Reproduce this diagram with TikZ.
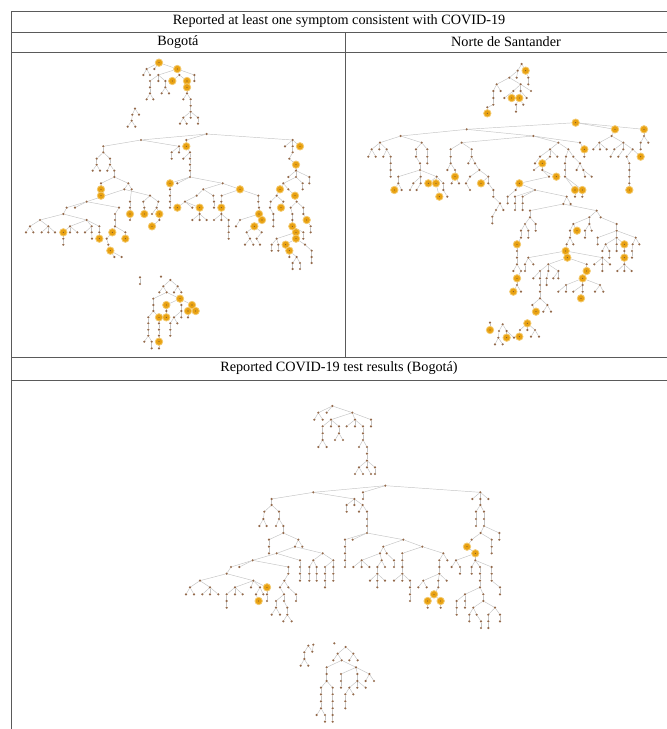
\documentclass[tikz,border=0pt]{standalone}
\usepackage{fontspec}
\setmainfont{Liberation Serif}
\pgfdeclarelayer{bg}
\pgfsetlayers{bg,main}
\definecolor{hlc}{HTML}{E9A212}
\definecolor{hlring}{HTML}{F4CA6E}
\definecolor{dotc}{HTML}{93694A}
\definecolor{rulec}{HTML}{5A5A5A}
\tikzset{
  pt/.style={circle,inner sep=0pt,minimum size=2.4pt,fill=dotc,draw=none},
  hl/.style={circle,inner sep=0pt,minimum size=7.4pt,fill=hlc,draw=hlring,line width=0.8pt,
     path picture={\fill[dotc!70!black] (path picture bounding box.center) circle (0.55pt);}},
  edge/.style={draw=black!23,line width=0.45pt},
  rule/.style={draw=rulec,line width=1pt},
  head/.style={inner sep=0pt,font=\fontsize{14.2}{16}\selectfont}
}
\newcommand\drawtree[1]{%
  \foreach \Na/\Xa/\Ya/\Pa/\Sa in {#1}{%
    \node[\Sa] (\Na) at (\Xa,\Ya) {};
  }%
  \begin{pgfonlayer}{bg}%
  \foreach \Na/\Xa/\Ya/\Pa/\Sa in {#1}{%
    \ifx\Na\Pa\else\draw[edge] (\Pa) -- (\Na);\fi
  }%
  \end{pgfonlayer}}
\begin{document}
\begin{tikzpicture}[x=1pt,y=-1pt]
\useasboundingbox (0,0) rectangle (667,729);
\begin{pgfonlayer}{bg}
\fill[white] (0,0) rectangle (667,729);
\end{pgfonlayer}
% table rules
\draw[rule] (11,11) -- (667,11);
\draw[rule] (11,32) -- (667,32);
\draw[rule] (11,52) -- (667,52);
\draw[rule] (345,32) -- (345,357);
\draw[rule] (11,357) -- (667,357);
\draw[rule] (11,380) -- (667,380);
\draw[rule] (11,11) -- (11,729);
% headers
\node[head] (h1) at (339,21.5) {Reported at least one symptom consistent with COVID-19};
\node[head] (h2) at (178,42) {Bogotá};
\node[head] (h3) at (506,42) {Norte de Santander};
\node[head] (h4) at (339,368.5) {Reported COVID-19 test results (Bogotá)};

% ---------- Bogota top small trees
\begin{scope}[shift={(90,50)},x=0.33333pt,y=-0.33333pt]
\drawtree{a0/207/38/a0/hl,a1/170/57/a0/pt,a2/193/57/a0/pt,a3/262/57/a0/hl,
a4/160/75/a1/pt,a5/180/75/a1/pt,a6/205/75/a3/pt,a7/268/75/a3/pt,a8/313/75/a3/pt,
a9/180/93/a6/pt,a10/205/93/a6/pt,a11/226/93/a6/pt,a12/247/93/a7/hl,a13/291/93/a7/hl,a14/313/93/a8/pt,
a15/180/112/a9/pt,a16/226/112/a11/pt,a17/291/112/a13/hl,
a18/180/130/a15/pt,a19/215/130/a16/pt,a20/237/130/a16/pt,a21/291/130/a17/pt,
a22/170/148/a18/pt,a23/190/148/a18/pt,a24/280/148/a21/pt,a25/302/148/a21/pt,
a26/302/167/a25/pt,a27/302/185/a26/pt,a28/280/203/a27/pt,a29/302/203/a27/pt,a30/324/203/a27/pt,
a31/270/221/a28/pt,a32/290/221/a28/pt,a33/324/221/a30/pt,
b0/135/176/b0/pt,b1/147/194/b0/pt,b2/127/194/b0/pt,b3/125/212/b2/pt,b4/113/230/b3/pt,b5/136/230/b3/pt}
\end{scope}

% ---------- Bogota big tree
\begin{scope}[shift={(20,130)},x=0.33333pt,y=-0.33333pt]
\drawtree{c0/560/12/c0/pt,c1/363/30/c0/pt,c2/499/30/c0/pt,c3/818/30/c0/pt,
c4/250/49/c1/pt,c5/477/49/c1/pt,c6/499/49/c2/hl,c7/795/49/c3/pt,c8/818/49/c3/pt,c9/840/49/c3/hl,
c10/250/67/c4/pt,c11/455/67/c5/pt,c12/477/67/c5/pt,c13/510/67/c6/pt,c14/818/67/c8/pt,
c15/230/86/c10/pt,c16/270/86/c10/pt,c17/455/86/c11/pt,c18/490/86/c13/pt,c19/510/86/c13/pt,c20/808/86/c14/pt,
c21/230/104/c15/pt,c22/270/104/c16/pt,c23/510/104/c19/pt,c24/828/104/c20/hl,
c26/218/122/c21/pt,c27/240/122/c21/pt,c28/262/122/c22/pt,c29/283/122/c22/pt,c30/510/122/c23/pt,c31/828/122/c24/pt,
c32/283/141/c29/pt,c33/510/141/c30/pt,c34/805/141/c31/pt,c35/828/141/c31/pt,c36/868/141/c31/pt,
c37/243/160/c32/pt,c38/325/160/c32/pt,c39/450/160/c33/hl,c40/472/160/c33/pt,c41/608/160/c33/pt,c42/790/160/c35/pt,c43/848/160/c35/pt,c44/868/160/c36/pt,
c45/243/178/c37/hl,c46/313/178/c38/pt,c47/335/178/c38/pt,c48/450/178/c39/pt,c49/550/178/c41/pt,c50/660/178/c41/hl,c51/780/178/c42/hl,c52/805/178/c42/pt,c53/848/178/c43/pt,
c54/243/197/c45/hl,c55/390/197/c46/pt,c56/450/197/c48/pt,c57/530/197/c49/pt,c58/580/197/c49/pt,c59/605/197/c50/pt,c60/715/197/c50/pt,c61/770/197/c51/pt,c62/825/197/c52/hl,
c63/200/215/c46/pt,c64/330/215/c47/pt,c65/370/215/c55/pt,c66/415/215/c55/pt,c67/450/215/c56/pt,c68/495/215/c57/pt,c69/582/215/c58/pt,c70/604/215/c59/pt,c71/715/215/c60/pt,c72/752/215/c61/pt,c73/790/215/c61/pt,c74/830/215/c62/pt,
c75/140/233/c63/pt,c76/165/233/c63/pt,c77/297/233/c63/pt,c78/330/233/c64/pt,c79/373/233/c65/pt,c80/410/233/c66/pt,c81/450/233/c67/pt,c82/472/233/c68/hl,c83/517/233/c68/pt,c84/539/233/c68/hl,c85/582/233/c69/pt,c86/604/233/c70/hl,c87/717/233/c71/pt,c88/750/233/c72/pt,c89/783/233/c73/hl,c90/812/233/c74/pt,c91/850/233/c74/pt,
c92/130/252/c75/pt,c93/285/252/c77/pt,c94/330/252/c78/hl,c95/373/252/c79/hl,c96/418/252/c80/hl,c97/396/252/c80/pt,c98/539/252/c84/pt,c99/604/252/c86/pt,c100/717/252/c87/hl,c101/760/252/c88/pt,c102/817/252/c90/pt,c103/850/252/c91/pt,
c104/60/270/c92/pt,c105/200/270/c92/pt,c106/285/270/c93/pt,c107/330/270/c94/pt,c108/418/270/c96/pt,c109/517/270/c98/pt,c110/539/270/c98/pt,c111/560/270/c98/pt,c112/582/270/c99/pt,c113/604/270/c99/pt,c114/626/270/c99/pt,c115/660/270/c100/pt,c116/726/270/c100/hl,c117/760/270/c101/pt,c118/817/270/c102/pt,c119/860/270/c103/hl,
c120/30/289/c104/pt,c121/85/289/c104/pt,c122/150/289/c105/pt,c123/215/289/c105/pt,c124/238/289/c105/pt,c125/285/289/c106/pt,c126/396/289/c108/hl,c127/626/289/c114/pt,c128/648/289/c115/pt,c129/703/289/c116/hl,c130/760/289/c117/pt,c131/817/289/c118/hl,c132/872/289/c119/pt,
c133/18/307/c120/pt,c134/40/307/c120/pt,c135/65/307/c121/pt,c136/85/307/c121/pt,c137/105/307/c121/pt,c138/130/307/c122/hl,c139/150/307/c122/pt,c140/172/307/c122/pt,c141/195/307/c123/pt,c142/215/307/c123/pt,c143/238/307/c124/pt,c144/277/307/c125/hl,c145/316/307/c125/pt,c146/626/307/c127/pt,c147/680/307/c129/pt,c148/725/307/c129/pt,c149/828/307/c131/hl,c150/850/307/c131/pt,c151/872/307/c132/pt,
c152/130/326/c138/pt,c153/216/326/c142/pt,c154/238/326/c143/hl,c155/260/326/c144/pt,c156/316/326/c145/hl,c157/626/326/c146/pt,c158/690/326/c147/pt,c159/710/326/c148/pt,c160/770/326/c149/pt,c161/828/326/c149/hl,c162/850/326/c150/pt,
c163/130/344/c152/pt,c164/265/344/c155/pt,c165/675/344/c158/pt,c166/700/344/c158/pt,c167/720/344/c159/pt,c168/755/344/c160/pt,c169/775/344/c160/pt,c170/797/344/c161/hl,c171/855/344/c161/pt,
c172/271/362/c164/hl,c173/755/362/c168/pt,c174/775/362/c169/pt,c175/808/362/c170/hl,c176/875/362/c171/pt,
c177/283/381/c172/pt,c178/305/381/c172/pt,c179/830/381/c175/pt,c180/808/381/c175/pt,c181/875/381/c176/pt,
c182/818/399/c179/pt,c183/840/399/c179/pt,c184/875/399/c181/pt,c185/818/417/c182/pt,c186/840/417/c183/pt}
\end{scope}

% ---------- Bogota bottom trees
\begin{scope}[shift={(100,260)},x=0.33333pt,y=-0.33333pt]
\drawtree{d0/120/52/d0/pt,d1/120/72/d0/pt,d2/183/50/d2/pt,
e0/211/60/e0/pt,e1/190/79/e0/pt,e2/233/79/e0/pt,e3/178/97/e1/pt,e4/200/97/e1/pt,e5/222/97/e2/pt,e6/244/97/e2/pt,
e7/160/116/e4/pt,e8/240/116/e4/hl,e9/160/135/e7/pt,e10/199/135/e8/hl,e11/244/135/e8/pt,e12/276/135/e8/hl,
e13/160/153/e9/pt,e14/199/153/e10/pt,e15/244/153/e11/pt,e16/264/153/e12/hl,e17/287/153/e12/hl,
e18/145/172/e13/pt,e19/177/172/e13/hl,e20/199/172/e14/hl,e21/222/172/e15/pt,e22/244/172/e15/pt,e23/264/172/e16/pt,
e24/145/190/e18/pt,e25/177/190/e19/pt,e26/211/190/e21/pt,e27/232/190/e21/pt,
e28/145/209/e24/pt,e29/177/209/e25/pt,e30/211/209/e26/pt,e31/145/227/e28/pt,e32/177/227/e29/pt,e33/211/227/e30/pt,
e34/133/245/e31/pt,e35/155/245/e31/pt,e36/177/245/e32/hl,e37/155/265/e35/pt,e38/177/265/e36/pt}
\end{scope}

% ---------- Norte de Santander
\begin{scope}[shift={(350,50)},x=0.33333pt,y=-0.33333pt]
\drawtree{n0/515/42/n0/pt,n1/503/62/n0/pt,n2/527/62/n0/hl,n3/478/83/n1/pt,n4/500/83/n1/pt,n5/535/83/n2/pt,
n6/440/103/n3/pt,n7/512/103/n3/pt,n8/535/103/n5/pt,n9/430/123/n6/pt,n10/452/123/n6/pt,n11/490/123/n7/pt,n12/512/123/n7/pt,n13/543/123/n7/pt,
n14/430/144/n9/pt,n15/463/144/n11/pt,n16/485/144/n11/hl,n17/508/144/n12/hl,n18/530/144/n12/pt,
n19/430/164/n14/pt,n20/498/164/n17/pt,n21/520/164/n17/pt,n22/412/172/n19/pt,n23/412/190/n22/hl,n24/498/185/n20/pt}
\drawtree{p0/677/218/p0/hl,p1/350/238/p0/pt,p2/795/238/p0/hl,p3/882/238/p0/hl,
p4/152/258/p1/pt,p5/550/258/p1/pt,p6/785/258/p2/pt,p7/882/258/p3/pt,
p8/90/278/p4/pt,p9/215/278/p4/pt,p10/335/278/p5/pt,p11/625/278/p5/pt,p12/690/278/p5/pt,p13/748/278/p6/pt,p14/820/278/p6/pt,p15/872/278/p7/pt,p16/895/278/p7/pt,
p17/65/298/p8/pt,p18/88/298/p8/pt,p19/110/298/p8/pt,p20/198/298/p9/pt,p21/232/298/p9/pt,p22/302/298/p10/pt,p23/365/298/p10/pt,p24/600/298/p11/pt,p25/655/298/p11/pt,p26/703/298/p12/hl,p27/730/298/p13/pt,p28/750/298/p13/pt,p29/770/298/p13/pt,p30/793/298/p14/pt,p31/820/298/p14/pt,p32/848/298/p14/pt,p33/872/298/p15/pt,
p34/55/320/p17/pt,p35/77/320/p17/pt,p36/100/320/p19/pt,p37/122/320/p19/pt,p38/198/320/p20/pt,p39/232/320/p21/pt,p40/302/320/p22/pt,p41/365/320/p23/pt,p42/570/320/p24/pt,p43/600/320/p24/pt,p44/622/320/p24/pt,p45/648/320/p25/pt,p46/670/320/p25/pt,p47/703/320/p26/pt,p48/782/320/p30/pt,p49/805/320/p31/pt,p50/830/320/p32/pt,p51/872/320/p32/hl,
p52/122/340/p37/pt,p53/210/340/p38/pt,p54/232/340/p39/pt,p55/302/340/p40/pt,p56/355/340/p41/pt,p57/375/340/p41/pt,p58/577/340/p43/hl,p59/555/340/p42/pt,p60/645/340/p45/pt,p61/690/340/p46/pt,p62/838/340/p50/pt,
p63/122/360/p52/pt,p64/210/360/p53/pt,p65/292/360/p55/pt,p66/315/360/p55/pt,p67/388/360/p57/pt,p68/552/360/p58/pt,p69/577/360/p58/pt,p70/645/360/p60/pt,p71/680/360/p61/pt,p72/700/360/p61/pt,p73/838/360/p62/pt,
p74/122/380/p63/pt,p75/145/380/p64/pt,p76/212/380/p64/pt,p77/260/380/p64/pt,p78/315/380/p66/hl,p79/360/380/p67/pt,p80/415/380/p67/pt,p81/597/380/p69/pt,p82/619/380/p69/hl,p83/645/380/p70/pt,p84/705/380/p72/pt,p85/725/380/p72/pt,p86/838/380/p73/pt,
p87/145/400/p75/pt,p88/190/400/p76/pt,p89/212/400/p76/pt,p90/235/400/p77/hl,p91/258/400/p77/hl,p92/280/400/p77/pt,p93/305/400/p78/pt,p94/327/400/p78/pt,p95/348/400/p79/pt,p96/393/400/p80/hl,p97/415/400/p80/pt,p98/508/400/p81/hl,p99/838/400/p86/pt,
p100/133/420/p87/hl,p101/155/420/p87/pt,p102/180/420/p88/pt,p103/200/420/p89/pt,p104/268/440/p91/hl,p105/280/420/p92/pt,p106/360/420/p95/pt,p107/430/420/p97/pt,p108/497/420/p98/pt,p109/555/420/p98/pt,p110/675/420/p83/hl,p111/697/420/p83/hl,p112/838/420/p99/hl,
p113/292/440/p105/pt,p114/430/440/p107/pt,p115/675/440/p110/pt,p116/697/440/p111/pt}
\drawtree{q0/650/440/p109/pt,q1/495/440/p109/pt,q2/518/440/p109/pt,q3/495/460/q1/pt,q4/495/480/q3/pt,q5/518/460/q2/pt,q6/518/480/q5/pt,q7/473/440/p108/pt,q8/473/460/q7/pt,
q9/450/460/p114/pt,q10/438/480/q9/pt,q11/460/480/q9/pt,q12/427/500/q10/pt,q13/427/520/q12/pt,
q14/640/462/q0/pt,q15/662/462/q0/pt,q16/540/482/q14/pt,q17/740/482/q14/pt,q18/540/502/q16/pt,q19/525/522/q18/pt,q20/557/522/q18/pt,q21/557/542/q20/pt,
q22/513/542/q19/pt,q23/535/542/q19/pt,q24/513/563/q22/pt,q25/535/563/q23/pt,q26/501/583/q24/hl,q27/501/603/q26/pt,q28/501/623/q27/pt,q29/501/643/q28/pt,
q30/490/663/q29/pt,q31/513/663/q29/pt,q32/501/685/q31/hl,q33/501/705/q32/pt,q34/490/725/q33/hl,q35/513/725/q33/pt,
q36/718/502/q17/pt,q37/752/502/q17/pt,q38/670/522/q36/pt,q39/718/522/q36/pt,q40/800/522/q37/pt,
q41/660/542/q38/pt,q42/681/542/q38/hl,q43/705/542/q39/pt,q44/725/542/q39/pt,q45/660/563/q41/pt,q46/650/583/q45/pt,q47/670/583/q45/pt,q48/705/563/q43/pt,
q49/800/542/q40/pt,q50/743/563/q49/pt,q51/800/563/q49/pt,q52/857/563/q49/pt,q53/743/583/q50/pt,q54/767/583/q51/pt,q55/800/583/q51/pt,q56/823/583/q51/hl,q57/848/583/q52/pt,q58/868/583/q52/pt,
q59/757/603/q54/pt,q60/778/603/q54/pt,q61/800/603/q55/pt,q63/823/603/q56/pt,q62/823/623/q63/hl,q64/846/603/q57/pt,q65/846/623/q64/pt,q67/778/623/q60/pt,
q68/823/643/q62/pt,q69/802/663/q68/pt,q70/823/663/q68/pt,q71/845/663/q68/pt,
q72/647/603/q46/hl,q73/652/623/q72/hl,q74/535/623/q72/pt,q75/757/623/q72/pt,q76/525/643/q74/pt,q77/550/643/q74/pt,q78/525/663/q76/pt,
q79/595/643/q73/pt,q80/710/643/q73/pt,q81/710/663/q80/hl,q82/698/685/q81/hl,q83/648/705/q82/pt,q84/698/705/q82/pt,q85/750/705/q82/pt,
q86/625/725/q83/pt,q87/648/725/q83/pt,q88/670/725/q84/pt,q89/698/725/q84/pt,q90/693/745/q89/hl,q91/735/725/q85/pt,q92/760/725/q85/pt,
q93/570/663/q79/pt,q94/595/663/q79/pt,q95/625/663/q79/pt,q96/550/685/q93/pt,q97/570/685/q93/pt,q98/590/685/q94/pt,q99/610/685/q95/pt,q100/625/685/q95/pt,
q101/570/705/q97/pt,q102/590/705/q98/pt,q104/570/725/q101/pt,q103/570/745/q104/pt,q105/547/765/q103/pt,q106/592/765/q103/pt,q107/558/785/q105/hl,q108/580/785/q106/pt,q109/603/785/q106/pt,
q110/733/643/q75/pt,q111/757/643/q75/pt,q112/780/643/q75/pt,q113/757/663/q111/pt,
r0/532/820/r0/hl,r1/510/840/r0/pt,r2/532/840/r0/pt,r3/555/840/r0/pt,r4/508/860/r1/hl,r5/543/860/r3/pt,r6/567/860/r3/pt,
s0/458/823/s0/pt,s1/447/843/s0/pt,s2/470/843/s0/pt,s3/470/863/s2/hl,s4/445/863/s1/pt,s5/435/883/s4/pt,s6/458/883/s4/pt,s7/492/863/s2/pt,
t0/420/818/t0/pt,t1/420/840/t0/hl}
\end{scope}

% ---------- Test results (Bogota)
\begin{scope}[shift={(170,390)},x=0.33333pt,y=-0.33333pt]
\drawtree{u0/487/48/u0/pt,u1/445/68/u0/pt,u2/470/68/u0/pt,u3/547/68/u0/pt,u4/433/89/u1/pt,u5/458/89/u1/pt,u6/483/89/u3/pt,u7/555/89/u3/pt,u8/603/89/u3/pt,
u9/458/109/u6/pt,u10/483/109/u6/pt,u11/507/109/u6/pt,u12/530/109/u7/pt,u13/555/109/u7/pt,u14/579/109/u7/pt,u15/603/109/u8/pt,
u16/458/130/u9/pt,u17/507/130/u11/pt,u18/579/130/u14/pt,u19/458/150/u16/pt,u20/495/150/u17/pt,u21/519/150/u17/pt,u22/579/150/u18/pt,
u23/445/171/u19/pt,u24/470/171/u19/pt,u25/567/171/u22/pt,u26/591/171/u22/pt,u27/591/191/u26/pt,u28/591/212/u27/pt,
u29/567/232/u28/pt,u30/591/232/u28/pt,u31/615/232/u28/pt,u32/555/252/u29/pt,u33/579/252/u29/pt,u34/603/252/u30/pt,u35/615/252/u31/pt,
v0/646/287/v0/pt,v1/430/307/v0/pt,v2/579/307/v0/pt,v3/931/307/v0/pt,v4/305/327/v1/pt,v5/553/327/v1/pt,v6/579/327/v2/pt,v7/907/327/v3/pt,v8/931/327/v3/pt,v9/955/327/v3/pt}
\end{scope}
\begin{scope}[shift={(170,500)},x=0.33333pt,y=-0.33333pt]
\drawtree{w0/305/15/v4/pt,w1/283/35/w0/pt,w2/327/35/w0/pt,w3/280/57/w1/pt,w4/327/57/w2/pt,w5/268/78/w3/pt,w6/290/78/w3/pt,w7/318/78/w4/pt,w8/340/78/w4/pt,
w9/340/99/w8/pt,w10/297/119/w9/pt,w11/385/119/w9/pt,w12/297/140/w10/pt,w13/297/160/w12/pt,w14/375/140/w11/pt,w15/397/140/w11/pt,
w16/320/160/w14/pt,w17/458/160/w14/pt,w18/248/181/w16/pt,w19/390/181/w16/pt,w20/430/181/w17/pt,w21/490/181/w17/pt,
w22/183/201/w18/pt,w23/208/201/w18/pt,w24/355/201/w18/pt,w25/170/221/w22/pt,w26/90/242/w25/pt,w27/250/242/w25/pt,
w28/60/262/w26/pt,w29/120/262/w26/pt,w30/48/283/w28/pt,w31/72/283/w28/pt,w32/97/283/w29/pt,w33/120/283/w29/pt,w34/145/283/w29/pt,
w35/195/262/w27/pt,w36/243/262/w27/pt,w37/270/262/w27/pt,w38/170/283/w35/pt,w39/195/283/w35/pt,w40/218/283/w35/pt,w41/170/303/w38/pt,w42/170/323/w41/pt,
w43/258/283/w37/pt,w44/280/283/w37/pt,w45/291/262/w27/hl,w46/266/303/w43/hl,w47/291/283/w45/pt,w48/291/303/w47/pt,
w49/355/221/w24/pt,w50/343/242/w49/pt,w51/330/262/w50/pt,w52/355/262/w50/pt,w53/342/283/w51/pt,w54/378/283/w52/pt,w55/318/303/w53/pt,w56/342/303/w53/pt,w57/378/303/w54/pt,
w58/318/323/w55/pt,w59/305/344/w58/pt,w60/330/344/w58/pt,w61/352/323/w56/pt,w62/352/344/w61/pt,w63/340/364/w62/pt,w64/365/364/w62/pt,
w65/390/201/w19/pt,w66/390/221/w65/pt,w67/390/242/w66/pt,
w68/418/201/w20/pt,w69/440/201/w20/pt,w70/418/221/w68/pt,w71/440/221/w69/pt,w72/418/242/w70/pt,w73/440/242/w71/pt,
w74/465/201/w21/pt,w75/490/201/w21/pt,w76/465/221/w74/pt,w77/490/221/w75/pt,w78/465/242/w76/pt,w79/490/242/w77/pt,w80/465/262/w78/pt,
x0/530/15/v5/pt,x1/553/15/v5/pt,x2/578/15/v5/pt,x3/530/35/x0/pt,x4/567/35/x2/pt,x5/591/35/x2/pt,x6/591/57/x5/pt,x7/591/78/x6/pt,x8/591/99/x7/pt,
x9/525/119/x8/pt,x10/548/119/x8/pt,x11/700/119/x8/pt,x12/525/140/x9/pt,x13/525/160/x12/pt,x14/525/181/x13/pt,x15/525/201/x14/pt,
x16/640/140/x11/pt,x17/757/140/x11/pt,x18/630/160/x16/pt,x19/650/160/x16/pt,x20/575/181/x18/pt,x21/635/181/x18/pt,x22/672/181/x19/pt,
x23/550/201/x20/pt,x24/575/201/x20/pt,x25/598/201/x20/pt,x26/622/201/x21/pt,x27/645/201/x21/pt,x28/622/221/x26/pt,x29/600/242/x28/pt,x30/622/242/x28/pt,x31/645/242/x28/pt,x32/622/262/x30/pt,x33/672/201/x22/pt,
x34/697/160/x17/pt,x35/820/160/x17/pt,x36/697/181/x34/pt,x37/697/201/x36/pt,x38/697/221/x37/pt,x39/672/242/x38/pt,x40/697/242/x38/pt,x41/720/242/x38/pt,x42/720/262/x41/pt,x43/720/283/x42/pt,x44/720/303/x43/pt,
x45/808/181/x35/pt,x46/832/181/x35/pt,x47/808/201/x45/pt,x48/808/221/x47/pt,x49/760/242/x48/pt,x50/805/242/x48/pt,x51/830/242/x48/pt,x52/745/262/x49/pt,x53/770/262/x49/pt,
x54/805/262/x50/pt,x55/792/283/x54/hl,x56/773/303/x55/hl,x57/812/303/x55/hl,x58/773/323/x56/pt,x59/812/323/x57/pt,
y0/931/15/v8/pt,y1/918/35/y0/pt,y2/942/35/y0/pt,y3/918/57/y1/pt,y4/942/57/y2/pt,y5/918/78/y3/pt,y6/942/78/y4/pt,y7/932/99/y6/pt,y8/988/99/y6/pt,y9/988/119/y8/pt,y10/905/119/y7/pt,y11/965/119/y7/pt,
y12/891/140/y10/hl,y13/965/140/y11/pt,y14/916/160/y12/hl,y18/965/160/y13/pt,y16/916/181/y14/pt,y17/858/181/y14/pt,
y19/845/201/y17/pt,y20/870/201/y17/pt,y21/870/221/y20/pt,y22/905/201/y16/pt,y23/930/201/y16/pt,y24/965/201/y16/pt,y25/905/221/y22/pt,y26/930/221/y23/pt,y27/965/221/y24/pt,
y29/930/242/y26/pt,y34/965/242/y27/pt,y30/930/262/y29/pt,y35/990/262/y34/pt,y31/885/283/y30/pt,y32/940/283/y30/pt,y33/990/283/y35/pt,
y36/860/303/y31/pt,y37/885/303/y31/pt,y41/940/303/y32/pt,y38/860/323/y36/pt,y39/885/323/y37/pt,y42/910/323/y41/pt,y43/975/323/y41/pt,
y40/860/344/y38/pt,y44/898/344/y42/pt,y45/920/344/y42/pt,y46/955/344/y43/pt,y47/990/344/y43/pt,y48/898/364/y44/pt,y49/933/364/y45/pt,y50/955/364/y46/pt,y51/990/364/y47/pt,y52/933/384/y49/pt,y53/955/384/y50/pt}
\end{scope}
\begin{scope}[shift={(280,620)},x=0.33333pt,y=-0.33333pt]
\drawtree{z0/85/77/z0/pt,z3/97/95/z0/pt,z1/100/74/z3/pt,z2/73/97/z0/pt,z4/73/117/z2/pt,z5/62/137/z4/pt,z6/85/137/z4/pt,z7/163/70/z7/pt,
zz0/197/81/zz0/pt,zz1/173/101/zz0/pt,zz2/220/101/zz0/pt,zz3/160/121/zz1/pt,zz4/185/121/zz1/pt,zz5/208/121/zz2/pt,zz6/233/121/zz2/pt,
zz7/140/142/zz4/pt,zz8/228/142/zz4/pt,zz9/140/162/zz7/pt,zz10/140/183/zz9/pt,zz11/123/203/zz10/pt,zz12/158/203/zz10/pt,zz13/123/223/zz11/pt,zz14/158/223/zz12/pt,
zz15/123/244/zz13/pt,zz16/158/244/zz14/pt,zz17/123/265/zz15/pt,zz18/158/265/zz16/pt,zz19/110/285/zz17/pt,zz20/135/285/zz17/pt,zz21/158/285/zz18/pt,zz22/135/305/zz20/pt,zz23/158/305/zz21/pt,
zz24/183/162/zz8/pt,zz25/232/162/zz8/pt,zz26/268/162/zz8/pt,zz27/183/183/zz24/pt,zz28/183/203/zz27/pt,zz29/232/183/zz25/pt,zz30/208/203/zz29/pt,zz31/232/203/zz29/pt,zz32/257/203/zz29/pt,
zz33/196/223/zz30/pt,zz34/220/223/zz30/pt,zz35/196/244/zz33/pt,zz36/196/265/zz35/pt,zz37/257/183/zz26/pt,zz38/282/183/zz26/pt}
\end{scope}
\end{tikzpicture}
\end{document}
